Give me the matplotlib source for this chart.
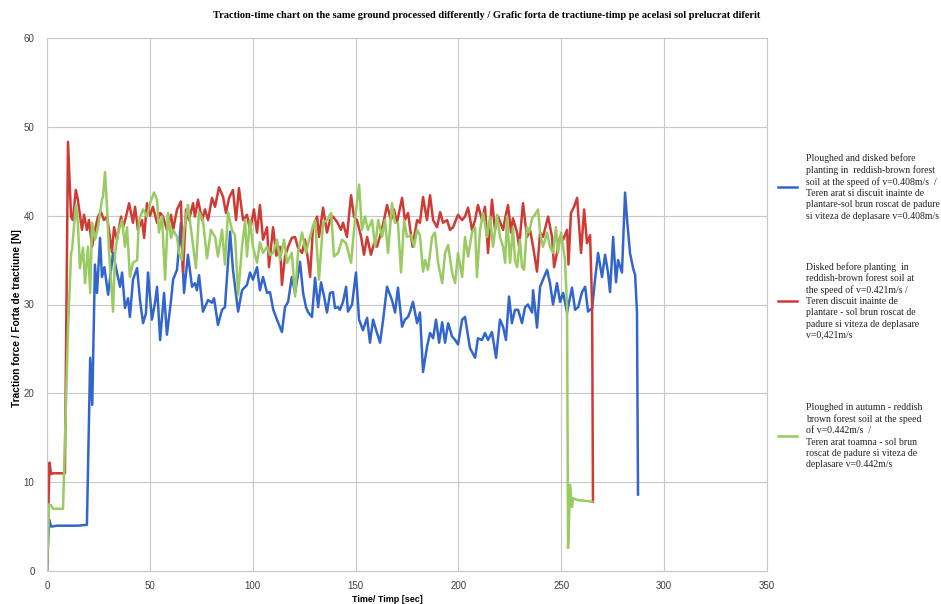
import matplotlib
matplotlib.use("Agg")
import matplotlib.pyplot as plt
from matplotlib.lines import Line2D

# Values (time in s, force in N)
blue_t = [0, 1, 2, 5, 10, 15, 19.4, 21, 22, 23.3, 24.3, 25.8, 26.7, 27.9, 29.7, 32.1, 34, 35.5,
          36.5, 37.9, 39.4, 40.3, 41.8, 43.8, 45.2, 46.7, 48.1, 49.1, 51, 52.5, 53.5, 55, 56.9,
          58.3, 60.3, 61.3, 63.2, 65.1, 66.6, 68.5, 70.5, 71.9, 72.9, 73.9, 75.8, 78.3, 80.2,
          81.2, 83.1, 85.1, 86.5, 89, 90.4, 92.9, 94.8, 97.2, 98.7, 100.1, 102.1, 103.5, 105,
          107, 108.4, 110, 111.8, 114.2, 115.7, 117.2, 119, 120.6, 123, 124.5, 125.9, 127,
          128.8, 130.3, 131.8, 133.2, 134.7, 136.1, 137.6, 139, 140, 141.5, 142.4, 143.9, 145.4,
          146.3, 148.3, 150.2, 151.7, 153.6, 155.6, 157, 158.5, 160.4, 161.9, 163.4, 165.3,
          167.7, 169.2, 170.6, 172.6, 174, 175.5, 176.5, 177.9, 179.9, 181.3, 182.8, 184.7,
          186.2, 187.7, 189.1, 190.6, 192.1, 193.5, 195, 196.9, 198.4, 199.8, 201.8, 203.2,
          205.6, 208.1, 209.5, 211.5, 212.9, 214.4, 216.3, 218.3, 220.2, 221.7, 223.1, 224.6,
          226, 227.5, 229, 230.9, 232.4, 233.8, 235.8, 236.3, 238.2, 239.7, 241.1, 243.1, 244.5,
          246, 247.9, 249.4, 250.9, 252.8, 255.2, 256.7, 258.2, 260.1, 261.6, 263, 265, 266.4,
          267.9, 269.8, 271.3, 272.7, 273.7, 275.2, 276.6, 277.6, 279.5, 281, 282, 283.4,
          284.9, 285.9, 286.8, 287.3]
blue_v = [0, 5.8, 5.0, 5.1, 5.1, 5.1, 5.2, 24.0, 18.7, 34.5, 31.3, 37.5, 33.1, 34.2, 31.1, 35.8,
          33.6, 32.0, 33.6, 29.6, 30.7, 28.6, 32.8, 34.1, 30.5, 27.9, 29.0, 33.6, 28.3, 30.2,
          32.0, 26.0, 31.3, 26.6, 30.5, 32.8, 33.9, 39.2, 31.3, 35.6, 32.0, 32.4, 31.6, 33.3,
          29.2, 30.5, 30.2, 30.7, 27.7, 29.4, 29.7, 38.2, 33.9, 29.2, 31.6, 32.2, 33.6, 32.8,
          34.2, 31.6, 33.1, 31.3, 31.4, 29.4, 28.3, 26.9, 29.7, 30.3, 33.1, 31.3, 34.8, 31.3,
          29.7, 29.1, 28.6, 33.0, 29.7, 32.5, 30.9, 29.1, 31.3, 31.4, 29.6, 29.7, 29.4, 30.3,
          32.0, 29.2, 30.0, 33.6, 28.3, 27.1, 28.5, 25.7, 28.3, 26.8, 25.7, 28.3, 32.0, 30.5,
          29.1, 31.9, 27.5, 28.3, 28.6, 29.2, 30.3, 27.9, 29.1, 22.4, 25.2, 26.8, 26.2, 28.3,
          25.7, 28.0, 25.7, 27.9, 26.4, 26.0, 25.5, 28.3, 28.6, 25.1, 24.0, 26.2, 26.0, 26.8,
          26.0, 26.9, 24.0, 28.3, 27.5, 26.0, 30.9, 27.9, 29.4, 29.4, 27.9, 29.7, 30.0, 29.1,
          31.6, 27.4, 32.0, 32.8, 33.9, 32.4, 30.0, 32.4, 30.3, 31.3, 29.1, 31.9, 29.4, 29.7,
          31.4, 32.0, 29.2, 29.6, 32.8, 35.8, 33.1, 35.6, 33.6, 31.4, 37.6, 32.5, 35.0, 33.6,
          42.6, 39.5, 35.8, 34.1, 33.3, 29.1, 8.6]

red_t = [0, 1.2, 2, 3, 8.7, 10.2, 11.7, 12.6, 14, 15, 17, 18, 19.4, 20.4, 21.9, 23.3, 24.8,
         26.2, 27.7, 29.2, 30.1, 31.6, 32.6, 34, 36, 37, 38.4, 39.9, 41.8, 42.8, 44.2, 46.2,
         47.2, 48.6, 50.1, 51.5, 53.5, 55, 56.4, 58.3, 60.3, 61.3, 63.2, 65.1, 66.1, 67.6, 69,
         71, 71.9, 73.4, 75.4, 76.8, 78.3, 80.2, 81.7, 83.6, 85.6, 87, 88.5, 90.4, 91.9, 93.3,
         95.3, 97.2, 98.7, 100.6, 102.1, 103.5, 105, 107, 107.9, 109.9, 111.5, 113.3, 114.2,
         115.7, 117.2, 119, 120.6, 122, 124, 125.4, 126.9, 127.9, 129.3, 131.3, 132.2, 134.2,
         136.1, 137.6, 139, 141, 142.9, 143.9, 145.8, 147.8, 149.2, 150.7, 152.7, 154.1,
         155.6, 157.5, 159, 160.4, 162.4, 163.8, 165.3, 167.2, 168.7, 170.1, 172.6, 174,
         175.5, 177.7, 179.9, 181.3, 182.8, 184.7, 186.2, 187.7, 189.6, 191.1, 192.5, 194.5,
         195.9, 197.4, 199.8, 201.8, 203.2, 204.7, 206.6, 208.1, 209.5, 211.5, 212.9, 214.4,
         216.3, 217.8, 219.3, 221.7, 222.7, 224.1, 225.6, 226.5, 228.5, 229.5, 231.4, 233.3,
         234.8, 236.3, 238.2, 239.7, 241.1, 243.6, 245.5, 246.5, 247.9, 249.4, 250.9, 252.8,
         253.5, 254.7, 256.2, 257.7, 259.6, 261.1, 262.5, 264, 265, 265.4]
red_v = [0, 12.2, 10.9, 11.0, 11.0, 48.3, 39.9, 39.5, 42.9, 41.8, 38.4, 40.1, 38.4, 39.5, 36.5,
         38.4, 39.9, 40.4, 39.5, 39.9, 38.4, 35.9, 38.7, 37.3, 39.9, 38.7, 39.9, 41.4, 39.2,
         41.0, 38.4, 39.5, 37.5, 41.4, 40.0, 41.0, 39.2, 40.3, 39.9, 38.4, 40.1, 38.4, 40.7,
         41.6, 33.6, 40.7, 39.5, 41.4, 39.9, 41.8, 39.5, 40.7, 39.5, 42.0, 41.0, 43.2, 42.1,
         40.3, 42.0, 42.9, 39.5, 43.1, 39.5, 40.1, 38.4, 40.7, 38.1, 41.2, 37.3, 38.7, 34.2,
         38.7, 35.5, 36.5, 32.2, 35.4, 36.5, 37.5, 37.6, 36.4, 35.8, 37.3, 35.0, 33.1, 38.7,
         39.9, 37.6, 40.9, 38.1, 39.5, 39.9, 39.3, 38.4, 39.2, 37.6, 42.3, 39.9, 39.5, 37.6,
         35.6, 37.6, 35.6, 36.9, 36.5, 38.1, 39.5, 41.2, 39.5, 40.7, 39.2, 42.0, 39.5, 40.3,
         36.5, 39.5, 39.2, 42.1, 39.5, 42.3, 39.5, 38.7, 40.4, 39.2, 39.5, 38.4, 38.7, 40.1,
         39.5, 39.9, 40.9, 38.4, 39.5, 41.2, 39.5, 41.0, 35.8, 41.8, 38.4, 39.9, 38.4, 39.7,
         41.2, 38.1, 39.7, 38.1, 36.5, 41.4, 37.6, 38.4, 36.5, 33.7, 38.1, 37.6, 39.9, 37.6,
         34.2, 35.8, 37.6, 37.3, 38.4, 34.5, 40.3, 41.0, 42.0, 35.8, 40.7, 36.9, 37.8, 29.7,
         7.8]

green_t = [0, 1, 2, 3, 7.8, 10.2, 11.7, 12.2, 14, 15, 16, 17.5, 18.5, 19.9, 21, 21.9, 23.3,
           24.8, 26.7, 27.2, 28.2, 29.2, 30.1, 32.1, 33.1, 34.5, 36.5, 37.9, 38.9, 40.3, 41.8,
           43.8, 44.7, 46.7, 48.6, 50.1, 52, 53.5, 54.4, 55.9, 57.4, 58.8, 60.3, 61.3, 63.2,
           64.2, 65.6, 66.6, 68.5, 70.5, 72.4, 73.9, 75.8, 77.8, 79.7, 81.7, 83.1, 85.1, 86.5,
           88, 89.9, 91.4, 92.9, 94.8, 96.3, 97.2, 98.7, 100.1, 102.1, 103.5, 105, 107, 108.4,
           109.9, 111.8, 113.3, 115.2, 116.7, 119, 120.6, 122, 124, 125.9, 127, 128.8, 130.3,
           132.2, 134.2, 136.1, 138.1, 139.5, 141.5, 143.4, 145.4, 147.8, 149.7, 151.7, 153.1,
           154.6, 156, 158, 159.5, 161, 162.9, 164.3, 165.8, 167.7, 169.2, 170.6, 172.1, 173.6,
           175, 177, 178.4, 179.9, 181.3, 182.8, 183.8, 185.2, 187.2, 188.6, 190.1, 192.1,
           193.5, 195, 196.9, 198.4, 199.8, 201.8, 203.2, 204.7, 206.6, 208.1, 209, 210.5, 212,
           213.9, 215.4, 216.8, 218.8, 220.2, 221.7, 222.7, 223.6, 225.1, 226.5, 227.5, 228.5,
           229.9, 230.9, 231.9, 233.3, 234.3, 235.8, 237.2, 238.7, 239.7, 241.1, 243.1, 244.5,
           246, 247.4, 248.4, 249.9, 250.9, 251.8, 252.8, 253.3, 254.3, 255.2, 255.7, 257.7, 265]
green_v = [0, 7.5, 7.4, 7.0, 7.0, 27.1, 35.8, 36.2, 41.2, 39.2, 34.1, 36.4, 32.4, 36.5, 31.3,
           39.2, 37.3, 38.7, 41.8, 42.1, 44.9, 40.9, 36.2, 29.2, 35.8, 38.1, 39.5, 36.5, 38.7,
           33.1, 34.7, 35.0, 39.5, 40.7, 39.9, 41.4, 42.6, 41.8, 38.1, 39.9, 32.8, 40.3, 37.5,
           38.4, 37.6, 35.8, 35.0, 38.4, 41.2, 37.6, 34.1, 40.4, 39.5, 35.2, 38.4, 37.6, 35.4,
           38.4, 34.5, 40.4, 38.4, 37.8, 31.1, 36.5, 39.5, 35.4, 39.5, 36.5, 34.7, 37.0, 35.8,
           36.5, 35.6, 35.8, 37.3, 35.0, 37.3, 34.7, 35.8, 30.9, 35.8, 38.1, 35.8, 36.9, 38.4,
           39.5, 32.8, 39.2, 39.5, 40.3, 35.4, 35.8, 37.3, 36.9, 34.7, 39.5, 43.5, 38.4, 39.9,
           38.4, 39.5, 36.5, 39.5, 37.6, 39.5, 35.8, 41.4, 39.2, 39.2, 33.6, 39.5, 37.6, 37.8,
           36.5, 38.4, 37.8, 33.7, 35.0, 33.9, 37.6, 38.1, 34.7, 32.4, 35.8, 36.7, 33.6, 32.4,
           35.8, 33.1, 37.6, 35.4, 38.1, 38.7, 33.1, 38.4, 40.3, 37.6, 39.9, 36.5, 40.1, 37.6,
           36.5, 34.7, 39.9, 34.7, 38.7, 35.0, 34.2, 37.3, 34.2, 33.9, 38.7, 38.1, 39.7, 40.1,
           40.7, 38.1, 36.5, 38.1, 36.5, 35.8, 38.7, 35.8, 38.1, 36.5, 35.0, 29.7, 2.6, 9.7,
           7.2, 8.2, 8.0, 7.8]

x_ticks = [0, 50, 100, 150, 200, 250, 300, 350]
y_ticks = [0, 10, 20, 30, 40, 50, 60]

labels = [
    "Ploughed and disked before\nplanting in  reddish-brown forest\nsoil at the speed of v=0.408m/s  /\n"
    "Teren arat si discuit inainte de\nplantare-sol brun roscat de padure\nsi viteza de deplasare v=0.408m/s",
    "Disked before planting  in\nreddish-brown forest soil at\nthe speed of v=0.421m/s /\n"
    "Teren discuit inainte de\nplantare - sol brun roscat de\npadure si viteza de deplasare\nv=0,421m/s",
    "Ploughed in autumn - reddish\nbrown forest soil at the speed\nof v=0.442m/s  /\n"
    "Teren arat toamna - sol brun\nroscat de padure si viteza de\ndeplasare v=0.442m/s",
]
colors = ["#3366cc", "#d03a35", "#9acb62"]

W, H = 941, 604
fig = plt.figure(figsize=(W / 100, H / 100), dpi=100)
ax = fig.add_axes([47 / W, 1 - 571 / H, 720 / W, 533 / H])

for t, v, c in [(blue_t, blue_v, colors[0]), (red_t, red_v, colors[1]), (green_t, green_v, colors[2])]:
    ax.plot(t, v, color=c, lw=1.8, solid_joinstyle="round")

ax.set_xlim(0, 350)
ax.set_ylim(0, 60)
ax.set_xticks(x_ticks)
ax.set_yticks(y_ticks)
ax.grid(True, color="#c8c8c8", lw=0.8)
ax.set_axisbelow(True)
for s in ax.spines.values():
    s.set_color("#c8c8c8")
    s.set_linewidth(0.8)
ax.tick_params(length=0, labelsize=7, colors="#404040")
ax.tick_params(axis="y", pad=9)
ax.tick_params(axis="x", pad=7)
for lab in ax.get_xticklabels() + ax.get_yticklabels():
    lab.set_family("Liberation Sans")

fig.text(487 / W, 1 - 15 / H, "Traction-time chart on the same ground processed differently / "
         "Grafic forta de tractiune-timp pe acelasi sol prelucrat diferit",
         ha="center", va="center", fontsize=7.5, fontweight="bold", family="Liberation Serif")
fig.text(387 / W, 1 - 599 / H, "Time/ Timp [sec]", ha="center", va="center",
         fontsize=6.5, fontweight="bold", family="Liberation Sans")
fig.text(17 / W, 1 - 318 / H, "Traction force / Forta de tractiune [N]", ha="center", va="center",
         rotation=90, fontsize=7.3, fontweight="bold", family="Liberation Sans")

# hand-placed legend to the right of the plot
for lab, c, ly in zip(labels, colors, [187, 301, 436]):
    y = 1 - ly / H
    fig.add_artist(Line2D([778 / W, 797 / W], [y, y], color=c, lw=1.8))
    fig.text(806 / W, y, lab, ha="left", va="center", fontsize=7,
             family="Liberation Serif", linespacing=1.3, color="#222222")

fig.savefig("out.png", dpi=100)
